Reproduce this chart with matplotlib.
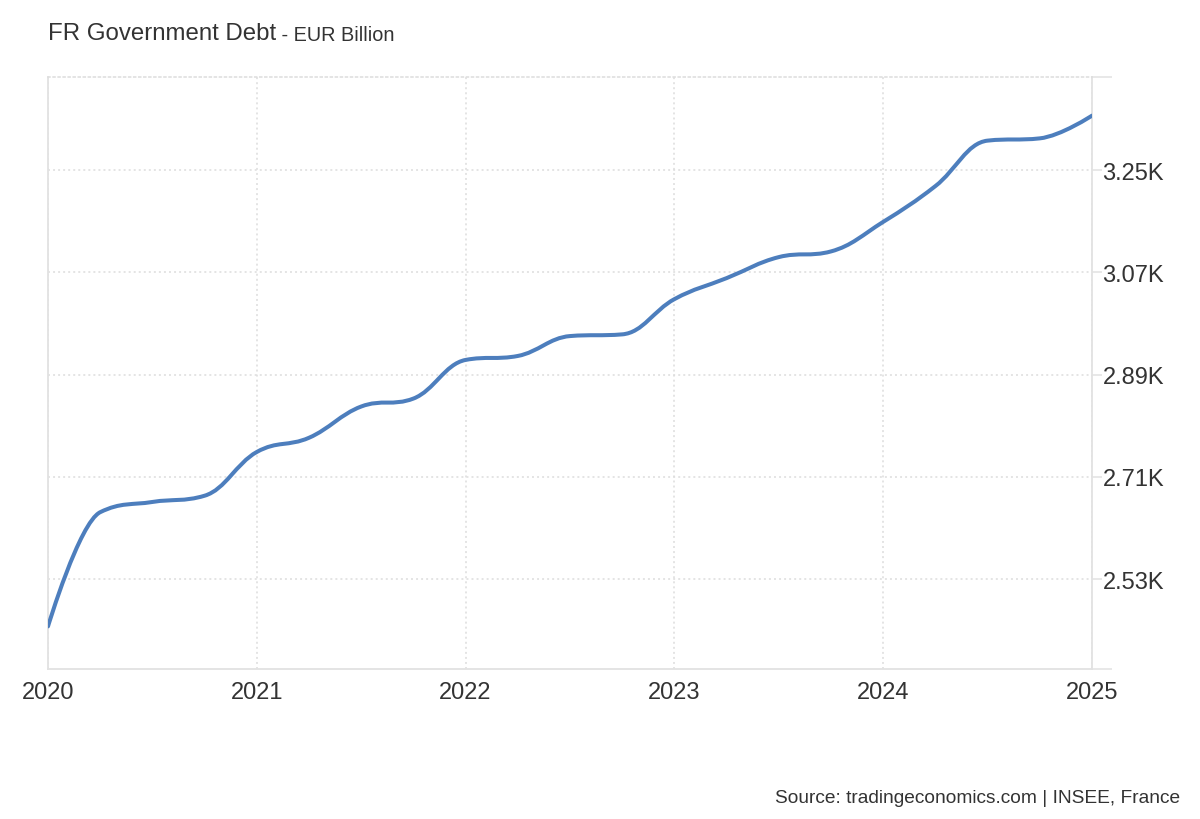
import numpy as np
import matplotlib
matplotlib.use('Agg')
import matplotlib.pyplot as plt
from matplotlib.path import Path
from matplotlib.patches import PathPatch

##########################################################
# data: FR government debt, quarterly (EUR billion)
##########################################################
#
quarters = ['2020Q1','2020Q2','2020Q3','2020Q4','2021Q1','2021Q2','2021Q3','2021Q4',
            '2022Q1','2022Q2','2022Q3','2022Q4','2023Q1','2023Q2','2023Q3','2023Q4',
            '2024Q1','2024Q2','2024Q3','2024Q4','2025Q1']
debt = [2447, 2648, 2666, 2677, 2754, 2779, 2834, 2848,
        2916, 2923, 2958, 2961, 3023, 3060, 3097, 3107,
        3159, 3222, 3302, 3306, 3346]
year_ticks = [2020, 2021, 2022, 2023, 2024, 2025]
value_ticks = [2530, 2710, 2890, 3070, 3250]
value_labels = ['2.53K', '2.71K', '2.89K', '3.07K', '3.25K']

x_vals = np.array([2020 + 0.25*ii for ii in range(len(quarters))]) # quarter positions
y_vals = np.array(debt, dtype=float)

##########################################################
# spline path (same smoothing rule as a highcharts spline)
##########################################################
#
def spline_path(xs, ys, smoothing=1.5):
    denom = smoothing + 1
    n = len(xs)
    right_c = [None]*n
    verts, codes = [(xs[0], ys[0])], [Path.MOVETO]
    for ii in range(1, n):
        px, py = xs[ii], ys[ii]
        lcx, lcy = px, py
        if ii < n-1:
            lx, ly, nx, ny = xs[ii-1], ys[ii-1], xs[ii+1], ys[ii+1]
            lcx = (smoothing*px + lx)/denom
            lcy = (smoothing*py + ly)/denom
            rcx = (smoothing*px + nx)/denom
            rcy = (smoothing*py + ny)/denom
            corr = ((rcy - lcy)*(rcx - px))/(rcx - lcx) + py - rcy
            lcy += corr
            rcy += corr
            if lcy > ly and lcy > py:
                lcy = max(ly, py); rcy = 2*py - lcy
            elif lcy < ly and lcy < py:
                lcy = min(ly, py); rcy = 2*py - lcy
            if rcy > ny and rcy > py:
                rcy = max(ny, py); lcy = 2*py - rcy
            elif rcy < ny and rcy < py:
                rcy = min(ny, py); lcy = 2*py - rcy
            right_c[ii] = (rcx, rcy)
        prev = right_c[ii-1] if right_c[ii-1] is not None else (xs[ii-1], ys[ii-1])
        verts += [prev, (lcx, lcy), (px, py)]
        codes += [Path.CURVE4]*3
    return Path(verts, codes)

##########################################################
# plotting
##########################################################
#
plt.rcParams['font.family'] = ['Liberation Sans', 'DejaVu Sans']
txt_color = '#333333'
grid_color = '#dddddd'
axis_color = '#e2e2e2'

fig = plt.figure(figsize=(12, 8.2), dpi=100)
ax = fig.add_axes([48/1200, 1-670/820, (1092-48)/1200, (670-78)/820])

ax.add_patch(PathPatch(spline_path(x_vals, y_vals), fill=False, edgecolor='#4d7ebd',
                       lw=2.9, capstyle='round', joinstyle='round', zorder=3))

ax.set_xlim(2020, 2025)
ax.set_ylim(2372, 3414)

ax.set_xticks(year_ticks)
ax.set_xticklabels([str(ii) for ii in year_ticks], fontsize=17, color=txt_color)
ax.tick_params(axis='x', length=0, pad=9)

ax.yaxis.tick_right()
ax.set_yticks(value_ticks)
ax.set_yticklabels(value_labels, fontsize=17, color=txt_color)
ax.tick_params(axis='y', which='major', length=7.5, width=1.1, color=axis_color, pad=0)
ax.set_yticks([2372, 3414], minor=True)
ax.tick_params(axis='y', which='minor', length=14.5, width=1.1, color=axis_color)

ax.grid(True, which='major', color=grid_color, lw=1.1, linestyle=(0, (1.3, 2.0)))
for side in ['left', 'right', 'bottom']:
    ax.spines[side].set_color(axis_color)
    ax.spines[side].set_linewidth(1.3)
ax.spines['top'].set_color(grid_color)
ax.spines['top'].set_linewidth(1.1)
ax.spines['top'].set_linestyle((0, (1.3, 2.0)))

title = fig.text(48/1200, 1-40/820, 'FR Government Debt', fontsize=17.3, color=txt_color,
                 ha='left', va='baseline')
fig.canvas.draw()
ax.annotate(' - EUR Billion', xy=(1, 0), xycoords=title, fontsize=14.3, color=txt_color,
            ha='left', va='bottom', annotation_clip=False)

fig.text(1180/1200, 1-803/820, 'Source: tradingeconomics.com | INSEE, France', fontsize=13.8,
         color=txt_color, ha='right', va='baseline')

fig.savefig('out.png', dpi=100)
